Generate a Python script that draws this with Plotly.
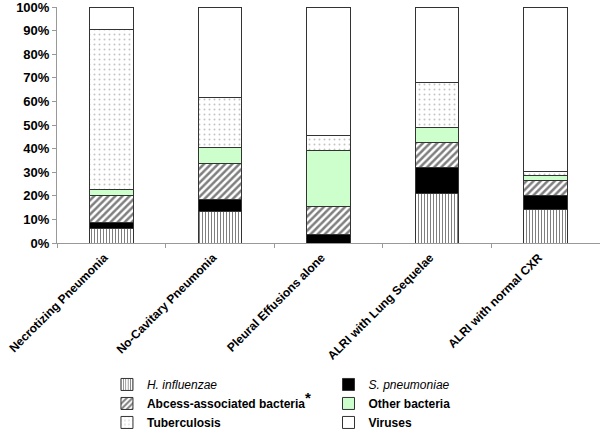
import plotly.graph_objects as go

categories = ["Necrotizing Pneumonia", "No-Cavitary Pneumonia", "Pleural Effusions alone",
              "ALRI with Lung Sequelae", "ALRI with normal CXR"]

h_influenzae = [6.2, 13.2, 0.0, 21.1, 14.1]
s_pneumoniae = [2.5, 5.4, 3.4, 10.9, 6.0]
abcess_bacteria = [11.4, 14.9, 12.1, 10.7, 6.5]
other_bacteria = [2.6, 6.8, 23.9, 6.2, 2.0]
tuberculosis = [67.7, 21.5, 6.2, 19.3, 1.8]
viruses = [9.6, 38.2, 54.4, 31.8, 69.6]

y_ticks = [0, 10, 20, 30, 40, 50, 60, 70, 80, 90, 100]
y_tick_labels = ["0%", "10%", "20%", "30%", "40%", "50%", "60%", "70%", "80%", "90%", "100%"]

FONT = "Liberation Sans, Arial, sans-serif"
line = dict(color="#333333", width=1)

series = [
    ("<i>H. influenzae</i>", h_influenzae, dict(color="white", line=line,
        pattern=dict(shape="|", fgcolor="black", bgcolor="white", size=3, solidity=0.35)), "legend"),
    ("<i>S. pneumoniae</i>", s_pneumoniae, dict(color="black", line=line), "legend2"),
    ("<b>Abcess-associated bacteria</b><sup><span style='font-size:15px'><b>*</b></span></sup>",
     abcess_bacteria, dict(color="white", line=line,
        pattern=dict(shape="/", fgcolor="black", bgcolor="white", size=5, solidity=0.5)), "legend"),
    ("<b>Other bacteria</b>", other_bacteria, dict(color="#ccffcc", line=line), "legend2"),
    ("<b>Tuberculosis</b>", tuberculosis, dict(color="white", line=line,
        pattern=dict(shape=".", fgcolor="#888888", bgcolor="white", size=5, solidity=0.12)), "legend"),
    ("<b>Viruses</b>", viruses, dict(color="white", line=line), "legend2"),
]

fig = go.Figure()
for name, vals, marker, lg in series:
    fig.add_trace(go.Bar(x=categories, y=vals, name=name, marker=marker, width=0.4, legend=lg))

fig.update_layout(
    barmode="stack",
    width=600, height=429,
    margin=dict(l=57, r=0, t=7, b=186, autoexpand=False),
    paper_bgcolor="white", plot_bgcolor="white",
    font=dict(family=FONT, color="black", size=12),
    showlegend=True,
    legend=dict(x=0.092, y=-0.538, xanchor="left", yanchor="top", orientation="v",
                font=dict(family=FONT, size=12, color="black"), bgcolor="rgba(0,0,0,0)",
                tracegroupgap=0, traceorder="normal"),
    legend2=dict(x=0.50, y=-0.538, xanchor="left", yanchor="top", orientation="v",
                 font=dict(family=FONT, size=12, color="black"), bgcolor="rgba(0,0,0,0)",
                 tracegroupgap=0, traceorder="normal"),
)

fig.update_xaxes(
    type="category", showline=True, linecolor="#999999", linewidth=1,
    ticks="outside", tickson="boundaries", ticklen=4, tickcolor="#999999",
    tickangle=-45, tickfont=dict(family=FONT, size=12, color="black", weight="bold"),
    ticklabelshift=-7, ticklabelstandoff=2,
    showgrid=False, range=[-0.5, 4.5], automargin=False,
)
fig.update_yaxes(
    range=[0, 100], tickmode="array", tickvals=y_ticks, ticktext=y_tick_labels,
    showline=True, linecolor="#999999", ticklabeloverflow="allow",
    linewidth=1, ticks="outside", ticklen=4, tickcolor="#999999", showgrid=False, zeroline=False,
    tickfont=dict(family=FONT, size=13, color="black", weight="bold"), automargin=False,
)

fig.write_html("out.html", config={"displayModeBar": False},
               post_script="document.body.style.margin='0';")
